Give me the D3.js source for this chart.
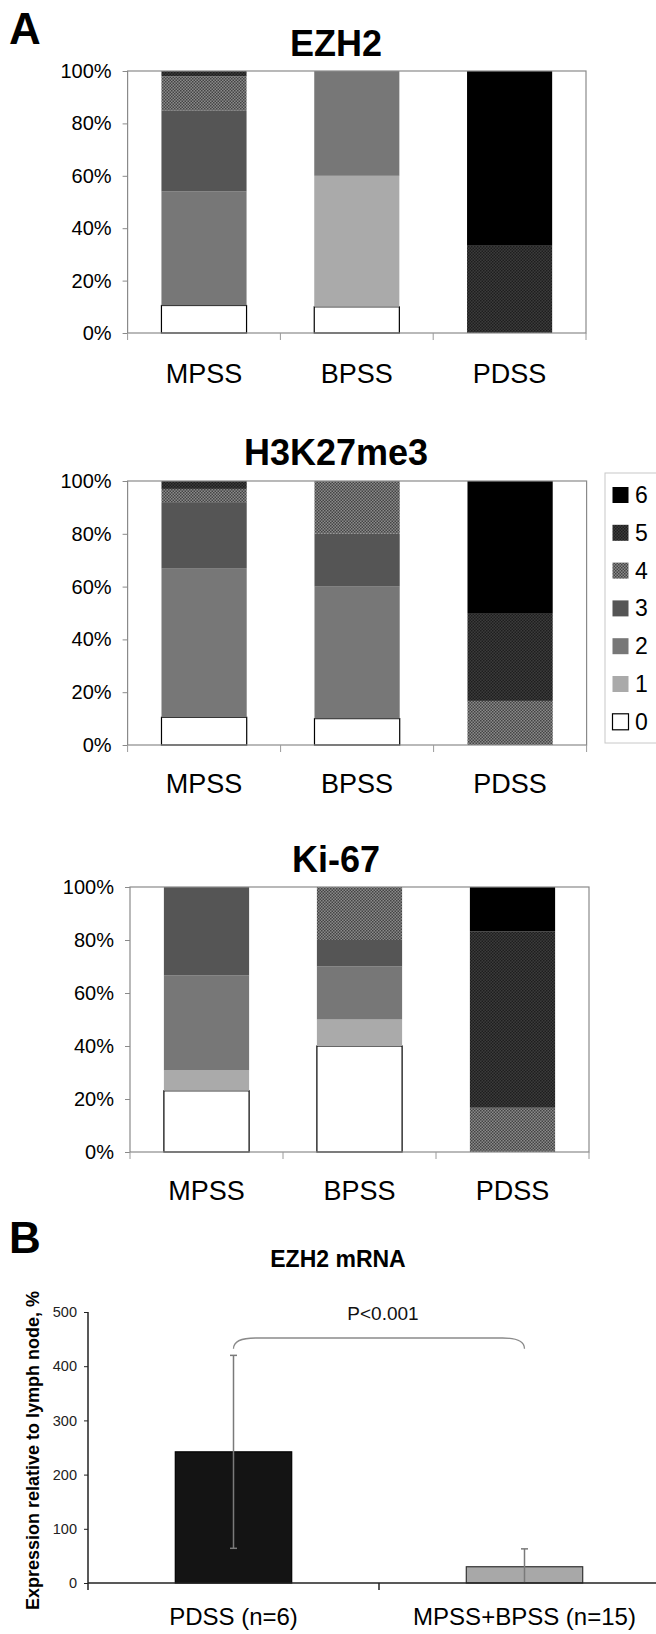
<!DOCTYPE html>
<html><head><meta charset="utf-8">
<script src="https://cdn.jsdelivr.net/npm/d3@7"></script>
<style>
html,body{margin:0;padding:0;background:#fff;}
svg{display:block;font-family:"Liberation Sans",Arial,Helvetica,sans-serif;}
</style></head>
<body><svg id="c" width="656" height="1634"></svg>
<script>
// ---------- DATA ----------
const categories = ["MPSS", "BPSS", "PDSS"];
const scores = ["0", "1", "2", "3", "4", "5", "6"];
const legendOrder = ["6", "5", "4", "3", "2", "1", "0"];
const yTicksA = [0, 20, 40, 60, 80, 100];

// percentage of cases per score 0..6
const ezh2MPSS = [10.5, 0, 43.5, 31, 13, 2, 0];
const ezh2BPSS = [10, 50, 40, 0, 0, 0, 0];
const ezh2PDSS = [0, 0, 0, 0, 0, 33.3, 66.7];

const h3MPSS = [10.5, 0, 56.3, 25.2, 5, 3, 0];
const h3BPSS = [10, 0, 50, 20, 20, 0, 0];
const h3PDSS = [0, 0, 0, 0, 16.7, 33.3, 50];

const ki67MPSS = [23.1, 7.7, 35.8, 33.4, 0, 0, 0];
const ki67BPSS = [40, 10, 20, 10, 20, 0, 0];
const ki67PDSS = [0, 0, 0, 0, 16.7, 66.6, 16.7];

const groupsB = ["PDSS (n=6)", "MPSS+BPSS (n=15)"];
const meanB = [242, 30];
const errB = [178, 33];
const yTicksB = [0, 100, 200, 300, 400, 500];

// ---------- DRAW ----------
const svg = d3.select("#c");
const defs = svg.append("defs");
function dotPattern(id, bg, dot) {
  const p = defs.append("pattern").attr("id", id).attr("patternUnits", "userSpaceOnUse")
    .attr("width", 3).attr("height", 3);
  p.append("rect").attr("width", 3).attr("height", 3).attr("fill", bg);
  p.append("rect").attr("x", 0).attr("y", 0).attr("width", 1.5).attr("height", 1.5).attr("fill", dot);
  p.append("rect").attr("x", 1.5).attr("y", 1.5).attr("width", 1.5).attr("height", 1.5).attr("fill", dot);
}
dotPattern("pat4", "#8a8a8a", "#444");
dotPattern("pat5", "#3c3c3c", "#1e1e1e");
const fillOf = {"0": "#ffffff", "1": "#aaaaaa", "2": "#777777", "3": "#555555", "4": "url(#pat4)", "5": "url(#pat5)", "6": "#000000"};

const panels = [
  {title: "EZH2", rows: [ezh2MPSS, ezh2BPSS, ezh2PDSS], x0: 127.6, x1: 586, y0: 71, y1: 333, titleY: 56, labelY: 383},
  {title: "H3K27me3", rows: [h3MPSS, h3BPSS, h3PDSS], x0: 127.6, x1: 586.6, y0: 481, y1: 745, titleY: 465, labelY: 793},
  {title: "Ki-67", rows: [ki67MPSS, ki67BPSS, ki67PDSS], x0: 130, x1: 589, y0: 887, y1: 1152, titleY: 872, labelY: 1200}
];

panels.forEach(p => {
  const g = svg.append("g");
  const table = categories.map((c, i) => {
    const o = {cat: c};
    scores.forEach((s, j) => o[s] = p.rows[i][j]);
    return o;
  });
  const series = d3.stack().keys(scores)(table);
  const x = d3.scaleBand().domain(categories).range([p.x0, p.x1]).paddingInner(0.443).paddingOuter(0.2215);
  const y = d3.scaleLinear().domain([0, 100]).range([p.y1, p.y0]);

  // title
  g.append("text").attr("x", 336).attr("y", p.titleY).attr("text-anchor", "middle")
    .attr("font-size", 36).attr("font-weight", "bold").text(p.title);

  // bars
  series.forEach(s => {
    g.append("g").selectAll("rect").data(s.filter(d => d[1] - d[0] > 0)).join("rect")
      .attr("x", d => x(d.data.cat))
      .attr("width", x.bandwidth())
      .attr("y", d => y(d[1]))
      .attr("height", d => y(d[0]) - y(d[1]))
      .attr("fill", fillOf[s.key])
      .attr("stroke", s.key === "0" ? "#000" : "none")
      .attr("stroke-width", s.key === "0" ? 1.2 : 0);
  });

  // frame
  g.append("rect").attr("x", p.x0).attr("y", p.y0).attr("width", p.x1 - p.x0).attr("height", p.y1 - p.y0)
    .attr("fill", "none").attr("stroke", "#8a8a8a").attr("stroke-width", 1.2);

  // y axis
  const ya = g.append("g").attr("transform", `translate(${p.x0},0)`)
    .call(d3.axisLeft(y).tickValues(yTicksA).tickFormat(d => d + "%").tickSize(5).tickPadding(11));
  ya.select(".domain").remove();
  ya.selectAll("line").attr("stroke", "#8a8a8a");
  ya.selectAll("text").attr("font-size", 20).attr("fill", "#000").attr("font-family", null);

  // category separators
  const step = x.step();
  d3.range(categories.length + 1).forEach(i => {
    const xx = p.x0 + i * step;
    g.append("line").attr("x1", xx).attr("x2", xx).attr("y1", p.y1).attr("y2", p.y1 + 7)
      .attr("stroke", "#9a9a9a").attr("stroke-width", 1);
  });
  // category labels
  g.selectAll("text.cat").data(categories).join("text").attr("class", "cat")
    .attr("x", d => x(d) + x.bandwidth() / 2).attr("y", p.labelY).attr("text-anchor", "middle")
    .attr("font-size", 27).text(d => d);
});

// legend
const lg = svg.append("g");
lg.append("rect").attr("x", 605).attr("y", 473).attr("width", 70).attr("height", 270)
  .attr("fill", "#fff").attr("stroke", "#c8c8c8").attr("stroke-width", 1);
legendOrder.forEach((k, i) => {
  const cy = 495 + i * 37.8;
  lg.append("rect").attr("x", 612.5).attr("y", cy - 8).attr("width", 16).attr("height", 16)
    .attr("fill", fillOf[k]).attr("stroke", k === "0" ? "#000" : "none").attr("stroke-width", 1.2);
  lg.append("text").attr("x", 635).attr("y", cy + 8).attr("font-size", 23).text(k);
});

// panel letters
svg.append("text").attr("x", 9).attr("y", 44).attr("font-size", 44).attr("font-weight", "bold").text("A");
svg.append("text").attr("x", 9).attr("y", 1253).attr("font-size", 44).attr("font-weight", "bold").text("B");

// ---------- PANEL B ----------
const gb = svg.append("g");
const xb = d3.scaleBand().domain(groupsB).range([88, 670]).paddingInner(0.6).paddingOuter(0.3);
const yb = d3.scaleLinear().domain([0, 500]).range([1583, 1312]);

gb.append("text").attr("x", 338).attr("y", 1267).attr("text-anchor", "middle")
  .attr("font-size", 23).attr("font-weight", "bold").text("EZH2 mRNA");

// bars
gb.selectAll("rect.bar").data(groupsB).join("rect").attr("class", "bar")
  .attr("x", d => xb(d)).attr("width", xb.bandwidth())
  .attr("y", (d, i) => yb(meanB[i])).attr("height", (d, i) => yb(0) - yb(meanB[i]))
  .attr("fill", (d, i) => i === 0 ? "#141414" : "#a8a8a8")
  .attr("stroke", (d, i) => i === 0 ? "#000" : "#333").attr("stroke-width", 1.2);

// error bars
groupsB.forEach((d, i) => {
  const cx = xb(d) + xb.bandwidth() / 2;
  const hi = meanB[i] + errB[i], lo = Math.max(0, meanB[i] - errB[i]);
  gb.append("line").attr("x1", cx).attr("x2", cx).attr("y1", yb(hi)).attr("y2", yb(lo))
    .attr("stroke", "#7a7a7a").attr("stroke-width", 1.5);
  gb.append("line").attr("x1", cx - 3.5).attr("x2", cx + 3.5).attr("y1", yb(hi)).attr("y2", yb(hi))
    .attr("stroke", "#7a7a7a").attr("stroke-width", 1.5);
  if (meanB[i] - errB[i] > 0)
    gb.append("line").attr("x1", cx - 3.5).attr("x2", cx + 3.5).attr("y1", yb(lo)).attr("y2", yb(lo))
      .attr("stroke", "#7a7a7a").attr("stroke-width", 1.5);
});

// y axis
const yab = gb.append("g").attr("transform", "translate(88,0)")
  .call(d3.axisLeft(yb).tickValues(yTicksB).tickSize(4).tickPadding(7));
yab.select(".domain").remove();
yab.selectAll("line").attr("stroke", "#222");
yab.selectAll("text").attr("font-size", 14.5).attr("fill", "#222").attr("font-family", null);
gb.append("line").attr("x1", 88).attr("x2", 88).attr("y1", yb(500)).attr("y2", yb(0) + 7)
  .attr("stroke", "#222").attr("stroke-width", 1.5);
// baseline
gb.append("line").attr("x1", 88).attr("x2", 656).attr("y1", yb(0)).attr("y2", yb(0))
  .attr("stroke", "#222").attr("stroke-width", 1.5);
// category boundary tick
gb.append("line").attr("x1", 88 + xb.step() * 1.0 + (xb.step() * xb.paddingOuter() - xb.step() * xb.paddingInner() / 2))
  .attr("x2", 88 + xb.step() * 1.0 + (xb.step() * xb.paddingOuter() - xb.step() * xb.paddingInner() / 2))
  .attr("y1", yb(0)).attr("y2", yb(0) + 7).attr("stroke", "#222").attr("stroke-width", 1.5);

// y axis title
gb.append("text").attr("transform", `translate(39,${(yb(0) + yb(500)) / 2 + 3}) rotate(-90)`)
  .attr("text-anchor", "middle").attr("font-size", 18).attr("font-weight", "bold")
  .text("Expression relative to lymph node, %");

// category labels
gb.selectAll("text.catb").data(groupsB).join("text").attr("class", "catb")
  .attr("x", d => xb(d) + xb.bandwidth() / 2).attr("y", 1625).attr("text-anchor", "middle")
  .attr("font-size", 24).text(d => d);

// significance bracket
const bx1 = xb(groupsB[0]) + xb.bandwidth() / 2, bx2 = xb(groupsB[1]) + xb.bandwidth() / 2;
const byLow = yb(432), byTop = yb(452), r = 22;
gb.append("path")
  .attr("d", `M${bx1},${byLow} Q${bx1},${byTop} ${bx1 + r},${byTop} L${bx2 - r},${byTop} Q${bx2},${byTop} ${bx2},${byLow}`)
  .attr("fill", "none").attr("stroke", "#8a8a8a").attr("stroke-width", 1.3);
gb.append("text").attr("x", (bx1 + bx2) / 2 + 4).attr("y", yb(485)).attr("text-anchor", "middle")
  .attr("font-size", 19).attr("fill", "#111").text("P<0.001");
</script></body></html>
